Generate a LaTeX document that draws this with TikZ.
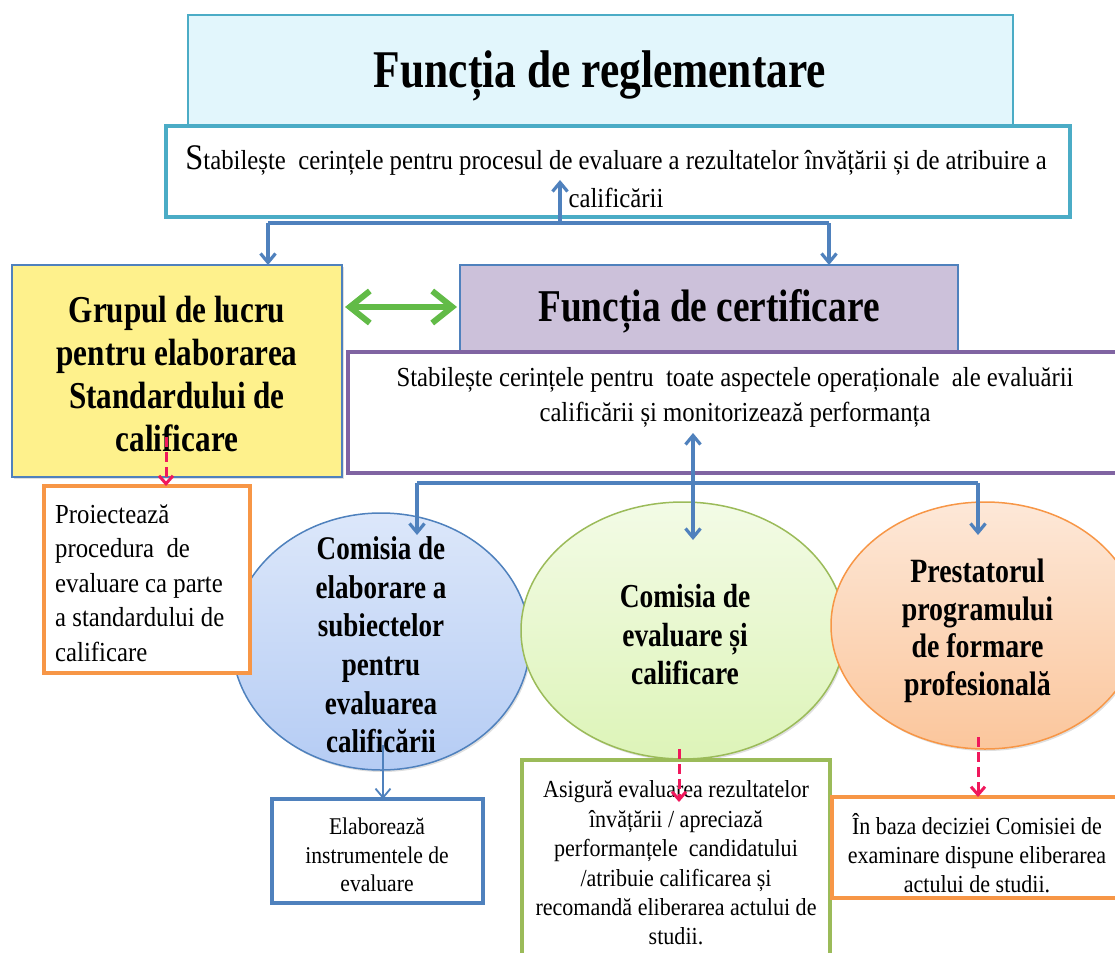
\documentclass[tikz,border=0pt]{standalone}
\usepackage{fontspec}
\setmainfont{Liberation Serif}[FakeStretch=0.9]
\newfontfamily\bfont{Liberation Serif}[FakeStretch=0.82]
\usetikzlibrary{arrows.meta,shapes.geometric,shadows}
\definecolor{tealb}{HTML}{4BACC6}
\definecolor{cyanfill}{HTML}{E2F6FC}
\definecolor{blueb}{HTML}{4F81BD}
\definecolor{yellowfill}{HTML}{FEF18C}
\definecolor{lavfill}{HTML}{CCC1DA}
\definecolor{purpleb}{HTML}{8064A2}
\definecolor{orangeb}{HTML}{F79646}
\definecolor{greenb}{HTML}{9BBB59}
\definecolor{arrgreen}{HTML}{62BB47}
\definecolor{redd}{HTML}{F0185C}
\definecolor{bluetop}{HTML}{DCE7FA}
\definecolor{bluebot}{HTML}{B5CCF4}
\definecolor{greentop}{HTML}{F3FBE6}
\definecolor{greenbot}{HTML}{DDF4B8}
\definecolor{orangetop}{HTML}{FDE8D8}
\definecolor{orangebot}{HTML}{FBC69C}
\tikzset{
  boxshape/.style={rectangle, inner sep=0pt, outer sep=0pt},
  ellshape/.style={ellipse, inner sep=0pt, outer sep=0pt, line width=1.5pt,
    drop shadow={shadow xshift=1.5pt, shadow yshift=-2pt, opacity=0.25}},
  regtxt/.style={align=center, inner sep=0pt},
  boldtxt/.style={align=center, inner sep=0pt, font=\bfont\bfseries},
  barrow/.style={draw=blueb, line width=3.2pt, -{Straight Barb[length=9pt,width=15pt]}},
  bdouble/.style={draw=blueb, line width=3.2pt, {Straight Barb[length=9pt,width=15pt]}-{Straight Barb[length=9pt,width=15pt]}},
  bline/.style={draw=blueb, line width=3.2pt},
  bthin/.style={draw=blueb, line width=1.8pt, -{Straight Barb[length=9pt,width=15pt]}},
  garrow/.style={draw=arrgreen, line width=6pt, line cap=round, {Straight Barb[length=20pt,width=32pt]}-{Straight Barb[length=20pt,width=32pt]}},
  rarrow/.style={draw=redd, line width=3pt, dash pattern=on 10pt off 5pt, -{Straight Barb[length=8pt,width=14pt]}},
}
\begin{document}
\begin{tikzpicture}[x=1pt,y=-1pt]
\useasboundingbox (0,0) rectangle (1115,952);
% ---------- top: regulation ----------
\node[boxshape, draw=tealb, line width=2pt, fill=cyanfill, minimum width=825pt, minimum height=111pt] (top) at (600.5,70.5) {};
\node[boldtxt, font=\bfont\bfseries\fontsize{53}{60}\selectfont] (toptxt) at (600,76) {Funcția de reglementare};
\node[boxshape, draw=tealb, line width=3.8pt, fill=white, minimum width=904pt, minimum height=91pt] (wb1) at (618,171.5) {};
\node[regtxt, font=\fontsize{27.5}{38}\selectfont] (wb1txt) at (616,177) {{\fontsize{36}{38}\selectfont S}tabilește\ \ cerințele pentru procesul de evaluare a rezultatelor învățării și de atribuire a\\calificării};
% ---------- yellow working group ----------
\node[boxshape, draw=blueb, line width=1.6pt, fill=yellowfill, minimum width=330pt, minimum height=212pt,
  drop shadow={shadow xshift=1.5pt, shadow yshift=-2pt, opacity=0.25}] (yellow) at (177,371) {};
\node[boldtxt, font=\bfont\bfseries\fontsize{38}{43}\selectfont] (yellowtxt) at (177,374) {Grupul de lucru\\pentru elaborarea\\Standardului de\\calificare};
% ---------- certification ----------
\node[boxshape, draw=blueb, line width=1.6pt, fill=lavfill, minimum width=498pt, minimum height=87pt] (purple) at (709,308.5) {};
\node[boldtxt, font=\bfont\bfseries\fontsize{45.5}{50}\selectfont] (purpletxt) at (709,311) {Funcția de certificare};
\node[boxshape, draw=purpleb, line width=3.8pt, fill=white, minimum width=774pt, minimum height=121pt] (wb2) at (735,412.5) {};
\node[regtxt, font=\fontsize{27.5}{35}\selectfont] (wb2txt) at (735,397) {Stabilește cerințele pentru\ \ toate aspectele operaționale\ \ ale evaluării\\calificării și monitorizează\ performanța};
% ---------- ellipses ----------
\node[ellshape, draw=blueb, top color=bluetop, bottom color=bluebot, minimum width=298pt, minimum height=257pt] (be) at (381,641.5) {};
\node[ellshape, draw=greenb, top color=greentop, bottom color=greenbot, minimum width=324pt, minimum height=257pt] (ge) at (683,630.5) {};
\node[ellshape, draw=orangeb, top color=orangetop, bottom color=orangebot, minimum width=308pt, minimum height=247pt] (oe) at (985,625.5) {};
\node[boldtxt, font=\bfont\bfseries\fontsize{33}{38.6}\selectfont] (betxt) at (381,645) {Comisia de\\elaborare a\\subiectelor\\pentru\\evaluarea\\calificării};
\node[boldtxt, font=\bfont\bfseries\fontsize{33.5}{38.5}\selectfont] (getxt) at (685,635) {Comisia de\\evaluare și\\calificare};
\node[boldtxt, font=\bfont\bfseries\fontsize{34}{37.5}\selectfont] (oetxt) at (977.5,631) {Prestatorul\\programului\\de formare\\profesională};
% ---------- orange box left ----------
\node[boxshape, draw=orangeb, line width=3.8pt, fill=white, minimum width=206pt, minimum height=187pt] (ob1) at (147,579.5) {};
\node[regtxt, align=left, anchor=west, font=\fontsize{27.5}{34.5}\selectfont] (ob1txt) at (55,583) {Proiectează\\procedura\ \ de\\evaluare ca parte\\a standardului de\\calificare};
% ---------- bottom boxes ----------
\node[boxshape, draw=blueb, line width=3.8pt, fill=white, minimum width=211pt, minimum height=104pt] (eb) at (377.5,851) {};
\node[regtxt, font=\fontsize{24}{28.5}\selectfont] (ebtxt) at (377,855) {Elaborează\\instrumentele de\\evaluare};
\node[boxshape, draw=greenb, line width=3.8pt, fill=white, minimum width=308pt, minimum height=200pt] (gb) at (676,860) {};
\node[regtxt, font=\fontsize{24.5}{29.4}\selectfont] (gbtxt) at (676,863) {Asigură evaluarea rezultatelor\\învățării / apreciază\\performanțele\ \ candidatului\\/atribuie calificarea și\\recomandă eliberarea actului de\\studii.};
\node[boxshape, draw=orangeb, line width=3.8pt, fill=white, minimum width=290pt, minimum height=101pt] (ob2) at (977,847.5) {};
\node[regtxt, font=\fontsize{24.5}{29}\selectfont] (ob2txt) at (977,853) {În baza deciziei Comisiei de\\examinare dispune eliberarea\\actului de studii.};
% ---------- connectors ----------
\coordinate (j1) at (560,223);
\coordinate (t1) at (560,180);
\coordinate (jl) at (268,223);
\coordinate (jr) at (829,223);
\draw[barrow] (j1) -- (t1);
\draw[bline] (jl) -- (jr);
\draw[barrow] (jl) -- (yellow.north -| jl);
\draw[barrow] (jr) -- (purple.north -| jr);
\coordinate (g) at (400,307);
\draw[garrow] ([xshift=3pt]yellow.east |- g) -- ([xshift=-3pt]purple.west |- g);
\coordinate (t2) at (693,433);
\coordinate (t3) at (693,540);
\coordinate (jl2) at (417,483);
\coordinate (jr2) at (978,483);
\coordinate (bt) at (417,535);
\coordinate (ot) at (978,535);
\draw[bline] (jl2) -- (jr2);
\draw[barrow] (jl2) -- (bt);
\draw[barrow] (jr2) -- (ot);
\draw[bdouble] (t2) -- (t3);
\coordinate (r1) at (166,437);
\draw[rarrow] (r1) -- (ob1.north -| r1);
\coordinate (bs) at (383,745);
\draw[bthin] (bs) -- (eb.north -| bs);
\coordinate (rg) at (679,749);
\coordinate (rgt) at (679,802);
\draw[rarrow] (rg) -- (rgt);
\coordinate (ro) at (978,737);
\draw[rarrow] (ro) -- (ob2.north -| ro);
\end{tikzpicture}
\end{document}
